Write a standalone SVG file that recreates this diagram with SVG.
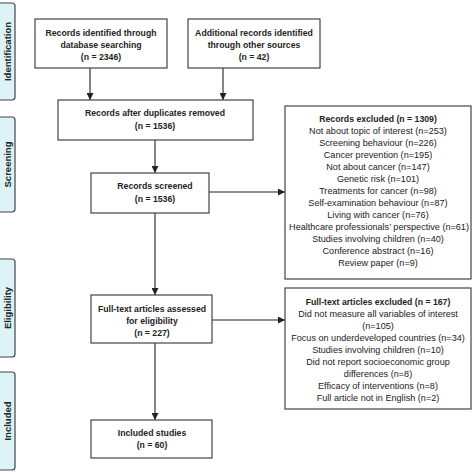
<svg xmlns="http://www.w3.org/2000/svg" width="474" height="474" viewBox="0 0 474 474">
<defs>
<style>
.box{fill:#fff;stroke:#444;stroke-width:1.2}
.side{fill:#dcf3f8;stroke:#444;stroke-width:1.2}
.t{font-family:"Liberation Sans",Arial,sans-serif;font-size:9.1px;fill:#222;text-anchor:middle}
.b{font-weight:bold;font-size:8.7px}
.s{font-family:"Liberation Sans",Arial,sans-serif;font-size:9.5px;font-weight:bold;fill:#222;text-anchor:middle}
.c{stroke:#222;stroke-width:1.1;fill:none;marker-end:url(#ah)}
</style>
<marker id="ah" viewBox="0 0 10 10" refX="10" refY="5" markerWidth="7" markerHeight="7" markerUnits="userSpaceOnUse" orient="auto">
<path d="M0,0 L10,5 L0,10 z" fill="#222"/>
</marker>
</defs>
<rect width="474" height="474" fill="#fff"/>
<g id="side-identification"><rect class="side" x="-6" y="3" width="21" height="97" rx="3"/><text class="s" transform="translate(11,51.5) rotate(-90)">Identification</text></g>
<g id="side-screening"><rect class="side" x="-6" y="117" width="21" height="95" rx="3"/><text class="s" transform="translate(11,164.5) rotate(-90)">Screening</text></g>
<g id="side-eligibility"><rect class="side" x="-6" y="259" width="21" height="98" rx="3"/><text class="s" transform="translate(11,308) rotate(-90)">Eligibility</text></g>
<g id="side-included"><rect class="side" x="-6" y="372" width="21" height="98" rx="3"/><text class="s" transform="translate(11,421) rotate(-90)">Included</text></g>
<g id="connectors">
<line class="c" x1="90" y1="68" x2="90" y2="100"/>
<line class="c" x1="223" y1="68" x2="223" y2="100"/>
<line class="c" x1="155" y1="140" x2="155" y2="173"/>
<line class="c" x1="155" y1="213" x2="155" y2="295"/>
<line class="c" x1="155" y1="343" x2="155" y2="420"/>
<line class="c" x1="209" y1="192" x2="285" y2="192"/>
<line class="c" x1="212" y1="320" x2="285" y2="320"/>
</g>
<g id="n-db"><rect class="box" x="35" y="19" width="132" height="49"/>
<text class="t b" x="101" y="36">Records identified through</text>
<text class="t b" x="101" y="48">database searching</text>
<text class="t b" x="101" y="60">(n = 2346)</text></g>
<g id="n-other"><rect class="box" x="188" y="19" width="132" height="49"/>
<text class="t b" x="254" y="36">Additional records identified</text>
<text class="t b" x="254" y="48">through other sources</text>
<text class="t b" x="254" y="60">(n = 42)</text></g>
<g id="n-dup"><rect class="box" x="58" y="100" width="195" height="40"/>
<text class="t b" x="155" y="116">Records after duplicates removed</text>
<text class="t b" x="155" y="129">(n = 1536)</text></g>
<g id="n-screened"><rect class="box" x="91" y="173" width="118" height="40"/>
<text class="t b" x="155" y="189">Records screened</text>
<text class="t b" x="155" y="202">(n = 1536)</text></g>
<g id="n-assessed"><rect class="box" x="91" y="295" width="121" height="48"/>
<text class="t b" x="152" y="312">Full-text articles assessed</text>
<text class="t b" x="152" y="324">for eligibility</text>
<text class="t b" x="152" y="336">(n = 227)</text></g>
<g id="n-included"><rect class="box" x="91" y="420" width="121" height="38"/>
<text class="t b" x="152" y="436">Included studies</text>
<text class="t b" x="152" y="448">(n = 60)</text></g>
<g id="n-excluded"><rect class="box" x="285" y="106" width="186" height="173"/>
<text class="t b" x="378" y="122">Records excluded (n = 1309)</text>
<text class="t" x="378" y="134">Not about topic of interest (n=253)</text>
<text class="t" x="378" y="146">Screening behaviour (n=226)</text>
<text class="t" x="378" y="158">Cancer prevention (n=195)</text>
<text class="t" x="378" y="170">Not about cancer (n=147)</text>
<text class="t" x="378" y="182">Genetic risk (n=101)</text>
<text class="t" x="378" y="194">Treatments for cancer (n=98)</text>
<text class="t" x="378" y="206">Self-examination behaviour (n=87)</text>
<text class="t" x="378" y="218">Living with cancer (n=76)</text>
<text class="t" x="379" y="230">Healthcare professionals’ perspective (n=61)</text>
<text class="t" x="378" y="242">Studies involving children (n=40)</text>
<text class="t" x="378" y="254">Conference abstract (n=16)</text>
<text class="t" x="378" y="266">Review paper (n=9)</text></g>
<g id="n-ftexcluded"><rect class="box" x="285" y="288" width="186" height="121"/>
<text class="t b" x="378" y="305">Full-text articles excluded (n = 167)</text>
<text class="t" x="378" y="317">Did not measure all variables of interest</text>
<text class="t" x="378" y="329">(n=105)</text>
<text class="t" x="378" y="341">Focus on underdeveloped countries (n=34)</text>
<text class="t" x="378" y="353">Studies involving children (n=10)</text>
<text class="t" x="378" y="365">Did not report socioeconomic group</text>
<text class="t" x="378" y="377">differences (n=8)</text>
<text class="t" x="378" y="389">Efficacy of interventions (n=8)</text>
<text class="t" x="378" y="401">Full article not in English (n=2)</text></g>
</svg>
